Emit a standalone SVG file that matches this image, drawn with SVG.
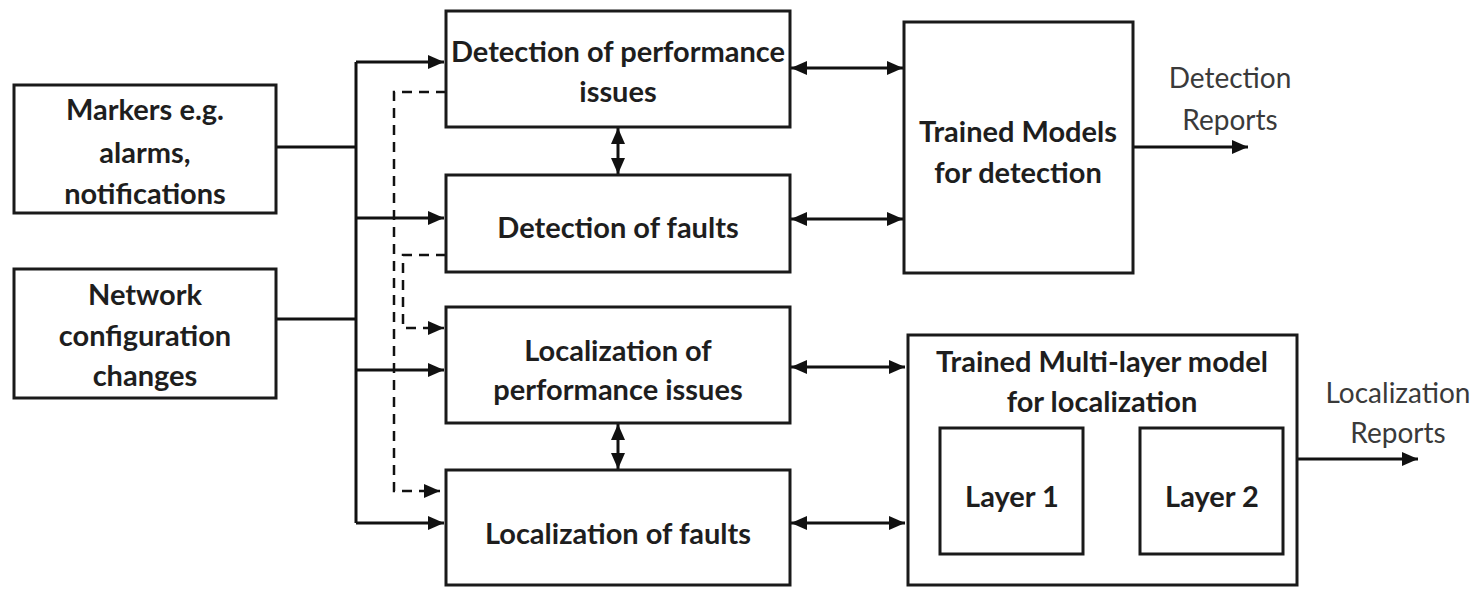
<svg xmlns="http://www.w3.org/2000/svg" width="1482" height="589" viewBox="0 0 1482 589">
  <defs>
    <marker id="arrow" viewBox="0 0 16 14" refX="16" refY="7" markerWidth="16" markerHeight="14" markerUnits="userSpaceOnUse" orient="auto-start-reverse">
      <path d="M0,0 L16,7 L0,14 z" fill="#111"/>
    </marker>
    <style>
      .box { fill: #fff; stroke: #1a1a1a; stroke-width: 3; }
      .lbl { font-family: Lato, "Liberation Sans", sans-serif; font-weight: 700; font-size: 29px; fill: #1e1e1e; text-anchor: middle; }
      .out { font-family: Lato, "Liberation Sans", sans-serif; font-weight: 400; font-size: 28px; fill: #3a3a3a; text-anchor: middle; }
      .wire { fill: none; stroke: #111; stroke-width: 3; }
      .dash { fill: none; stroke: #111; stroke-width: 2.5; stroke-dasharray: 10 7; }
    </style>
  </defs>
  <rect width="1482" height="589" fill="#fff"/>

  <g id="connectors">
    <!-- input trunk feeding all four analysis blocks -->
    <path class="wire" d="M276,147 H356"/>
    <path class="wire" d="M276,319 H356"/>
    <path class="wire" d="M356,62 V523"/>
    <path class="wire" d="M356,62 H444" marker-end="url(#arrow)"/>
    <path class="wire" d="M356,218 H444" marker-end="url(#arrow)"/>
    <path class="wire" d="M356,370 H444" marker-end="url(#arrow)"/>
    <path class="wire" d="M356,523 H444" marker-end="url(#arrow)"/>

    <!-- detection results forwarded to localization (dashed) -->
    <path class="dash" d="M446,92 H394 V491 H440" marker-end="url(#arrow)"/>
    <path class="dash" d="M446,255 H403 V328 H444" marker-end="url(#arrow)"/>

    <!-- vertical exchanges between paired blocks -->
    <path class="wire" d="M618,128 V174" marker-start="url(#arrow)" marker-end="url(#arrow)"/>
    <path class="wire" d="M618,424 V469" marker-start="url(#arrow)" marker-end="url(#arrow)"/>

    <!-- links to trained models -->
    <path class="wire" d="M791,68 H903" marker-start="url(#arrow)" marker-end="url(#arrow)"/>
    <path class="wire" d="M791,219 H903" marker-start="url(#arrow)" marker-end="url(#arrow)"/>
    <path class="wire" d="M791,367 H905" marker-start="url(#arrow)" marker-end="url(#arrow)"/>
    <path class="wire" d="M791,523 H905" marker-start="url(#arrow)" marker-end="url(#arrow)"/>

    <!-- report outputs -->
    <path class="wire" d="M1134,147 H1248" marker-end="url(#arrow)"/>
    <path class="wire" d="M1298,459 H1418" marker-end="url(#arrow)"/>
  </g>

  <g id="markers">
    <rect class="box" x="14" y="85" width="262" height="128"/>
    <text class="lbl" x="145" y="120">Markers e.g.</text>
    <text class="lbl" x="145" y="163">alarms,</text>
    <text class="lbl" x="145" y="204">notifications</text>
  </g>

  <g id="network-config">
    <rect class="box" x="14" y="269" width="262" height="129"/>
    <text class="lbl" x="145" y="305">Network</text>
    <text class="lbl" x="145" y="346">configuration</text>
    <text class="lbl" x="145" y="386">changes</text>
  </g>

  <g id="detect-perf">
    <rect class="box" x="446" y="11" width="344" height="116"/>
    <text class="lbl" x="618" y="62">Detection of performance</text>
    <text class="lbl" x="618" y="102">issues</text>
  </g>

  <g id="detect-faults">
    <rect class="box" x="446" y="175" width="344" height="97"/>
    <text class="lbl" x="618" y="238">Detection of faults</text>
  </g>

  <g id="localize-perf">
    <rect class="box" x="446" y="307" width="344" height="116"/>
    <text class="lbl" x="618" y="361">Localization of</text>
    <text class="lbl" x="618" y="400">performance issues</text>
  </g>

  <g id="localize-faults">
    <rect class="box" x="446" y="470" width="344" height="115"/>
    <text class="lbl" x="618" y="544">Localization of faults</text>
  </g>

  <g id="detection-models">
    <rect class="box" x="904" y="22" width="229" height="251"/>
    <text class="lbl" x="1018" y="142">Trained Models</text>
    <text class="lbl" x="1018" y="183">for detection</text>
  </g>

  <g id="localization-model">
    <rect class="box" x="908" y="335" width="389" height="250"/>
    <text class="lbl" x="1102" y="372">Trained Multi-layer model</text>
    <text class="lbl" x="1102" y="412">for localization</text>
  </g>

  <g id="layer-1">
    <rect class="box" x="940" y="428" width="143" height="126"/>
    <text class="lbl" x="1012" y="507">Layer 1</text>
  </g>

  <g id="layer-2">
    <rect class="box" x="1140" y="428" width="143" height="126"/>
    <text class="lbl" x="1212" y="507">Layer 2</text>
  </g>

  <g id="detection-reports">
    <text class="out" x="1230" y="88">Detection</text>
    <text class="out" x="1230" y="130">Reports</text>
  </g>

  <g id="localization-reports">
    <text class="out" x="1398" y="403">Localization</text>
    <text class="out" x="1398" y="443">Reports</text>
  </g>
</svg>
